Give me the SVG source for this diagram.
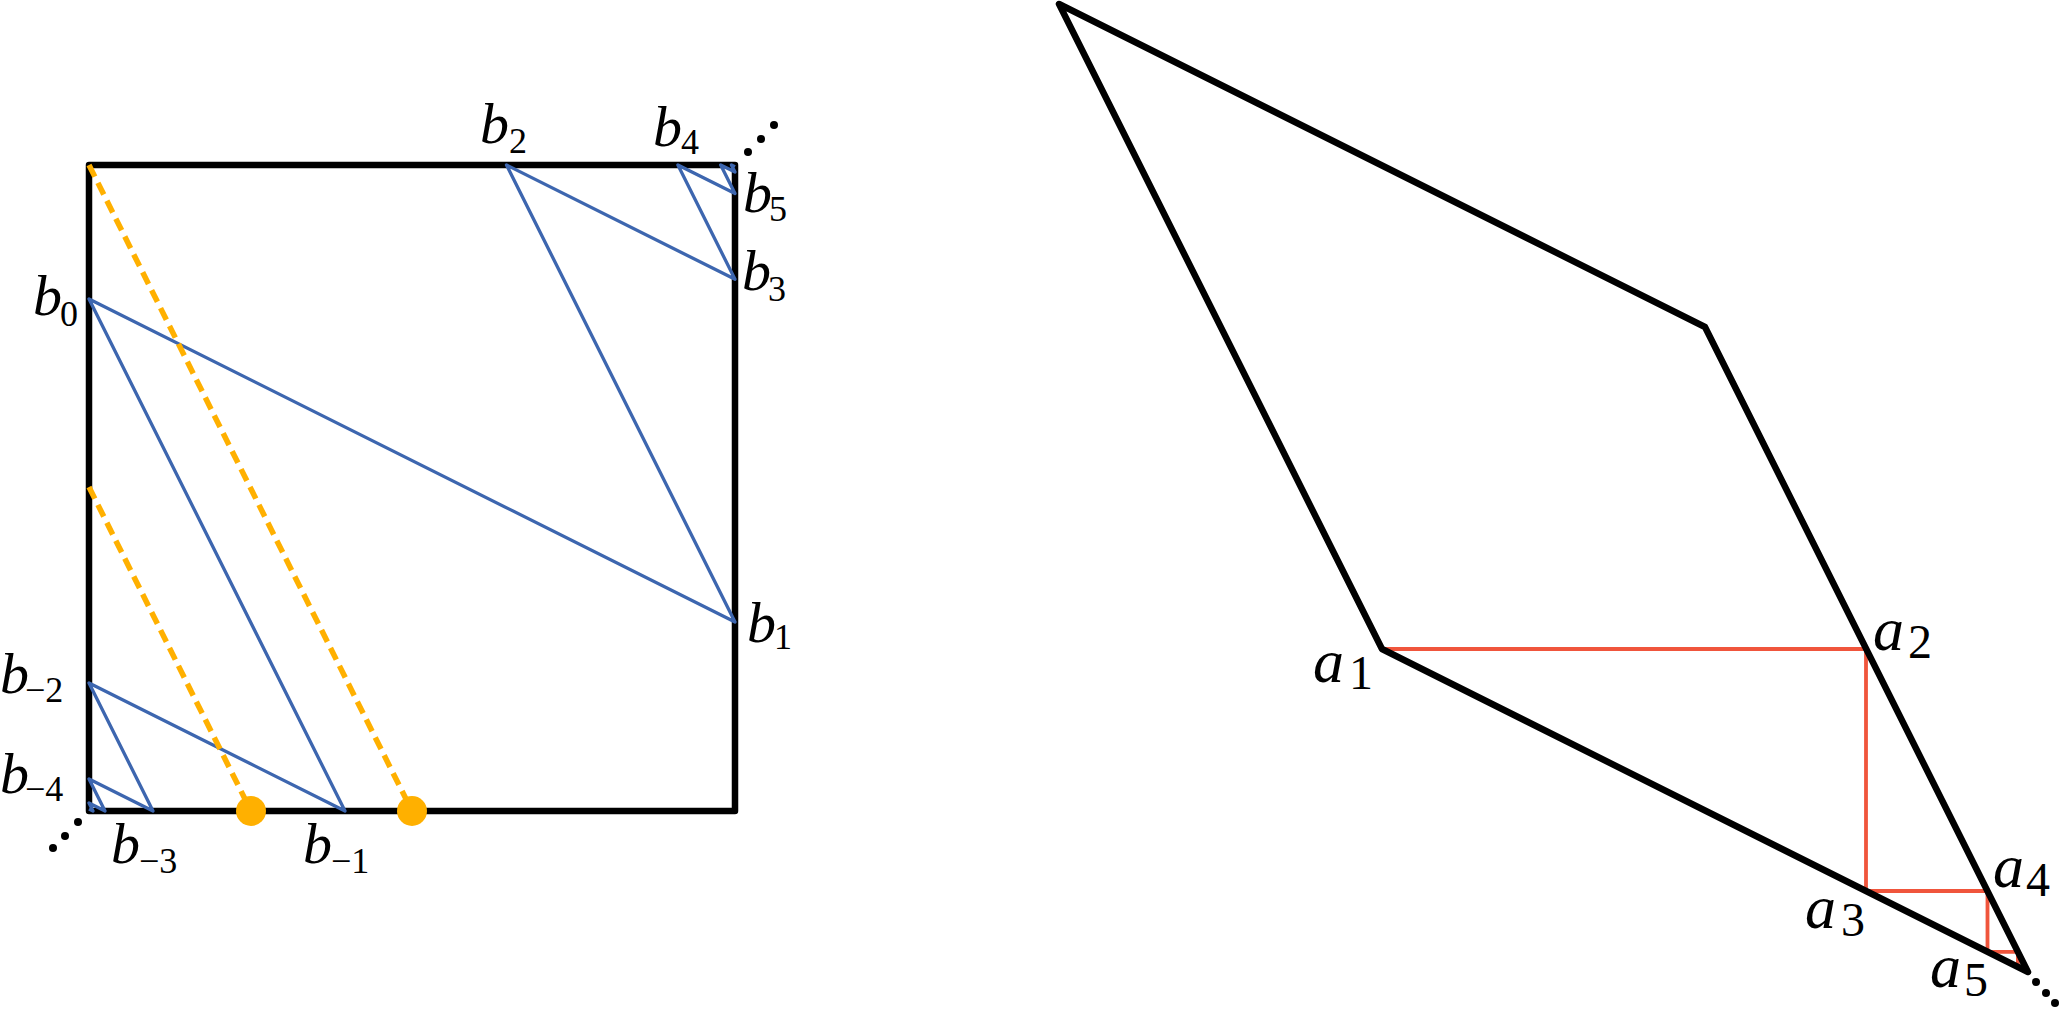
<svg xmlns="http://www.w3.org/2000/svg" width="2061" height="1009" viewBox="0 0 2061 1009">
<style>
.blk{fill:none;stroke:#000;stroke-width:6.5;stroke-linejoin:round;stroke-linecap:round}
.blue{fill:none;stroke:#3D66AF;stroke-width:3.3;stroke-linejoin:round}
.red{fill:none;stroke:#F0553C;stroke-width:3.8;stroke-linejoin:miter}
.dash{fill:none;stroke:#FFB000;stroke-width:5.5;stroke-dasharray:13 7}
.odot{fill:#FFB000}
.dot{fill:#000}
</style>

<g id="square">
<rect class="blk" x="89" y="165" width="646" height="646"/>
</g>

<g id="connectors">
<polyline id="orbit" class="blue" points="89,809 93,811 89,803 105,811 89,779 153,811 89,683 345,811 89,299 735,622 506.5,165 735,279.3 677.9,165 735,193.6 720.7,165 735,172.1 731.4,165 735,166.8"/>
<line class="dash" x1="89" y1="165" x2="412" y2="811"/>
<line class="dash" x1="89" y1="487" x2="251" y2="811"/>
<polyline id="staircase" class="red" points="1382,649 1866,649 1866,891 1987.5,891 1987.5,951.8 2017.9,951.8 2017.9,967 2025.5,967"/>
</g>

<g id="orange-points">
<circle class="odot" cx="251" cy="811" r="15"/>
<circle class="odot" cx="412" cy="811" r="15"/>
</g>

<g id="parallelogram">
<polygon class="blk" points="1059,4 1705,327 2028,972 1382,649"/>
</g>

<g id="ellipses">
<circle class="dot" cx="748" cy="152" r="4"/>
<circle class="dot" cx="761" cy="139" r="4"/>
<circle class="dot" cx="774" cy="125" r="4"/>
<circle class="dot" cx="78" cy="822" r="4"/>
<circle class="dot" cx="65" cy="836" r="4"/>
<circle class="dot" cx="53" cy="848" r="4"/>
<circle class="dot" cx="2036" cy="982" r="4"/>
<circle class="dot" cx="2046" cy="993" r="4"/>
<circle class="dot" cx="2055" cy="1003" r="4"/>
</g>

<g id="labels-b" font-family="Liberation Serif" font-size="58" fill="#000">
<text x="33" y="315"><tspan font-style="italic">b</tspan><tspan font-size="36" x="60" y="326">0</tspan></text>
<text x="747" y="642"><tspan font-style="italic">b</tspan><tspan font-size="36" x="774" y="649">1</tspan></text>
<text x="480" y="143"><tspan font-style="italic">b</tspan><tspan font-size="36" x="509" y="153">2</tspan></text>
<text x="742" y="290"><tspan font-style="italic">b</tspan><tspan font-size="36" x="768" y="301">3</tspan></text>
<text x="653" y="146"><tspan font-style="italic">b</tspan><tspan font-size="36" x="681" y="154">4</tspan></text>
<text x="743" y="212"><tspan font-style="italic">b</tspan><tspan font-size="36" x="769" y="221">5</tspan></text>
<text x="303" y="863"><tspan font-style="italic">b</tspan><tspan font-size="36" x="331" y="873">−1</tspan></text>
<text x="0" y="693"><tspan font-style="italic">b</tspan><tspan font-size="36" x="25" y="702">−2</tspan></text>
<text x="111" y="863"><tspan font-style="italic">b</tspan><tspan font-size="36" x="139" y="873">−3</tspan></text>
<text x="0" y="793"><tspan font-style="italic">b</tspan><tspan font-size="36" x="25" y="801">−4</tspan></text>
</g>

<g id="labels-a" font-family="Liberation Serif" font-size="62" fill="#000">
<text x="1313" y="682"><tspan font-style="italic">a</tspan><tspan font-size="48" x="1349" y="689">1</tspan></text>
<text x="1873" y="650"><tspan font-style="italic">a</tspan><tspan font-size="48" x="1908" y="658">2</tspan></text>
<text x="1805" y="928"><tspan font-style="italic">a</tspan><tspan font-size="48" x="1841" y="936">3</tspan></text>
<text x="1993" y="887"><tspan font-style="italic">a</tspan><tspan font-size="48" x="2026" y="896">4</tspan></text>
<text x="1930" y="987"><tspan font-style="italic">a</tspan><tspan font-size="48" x="1964" y="996">5</tspan></text>
</g>
</svg>
